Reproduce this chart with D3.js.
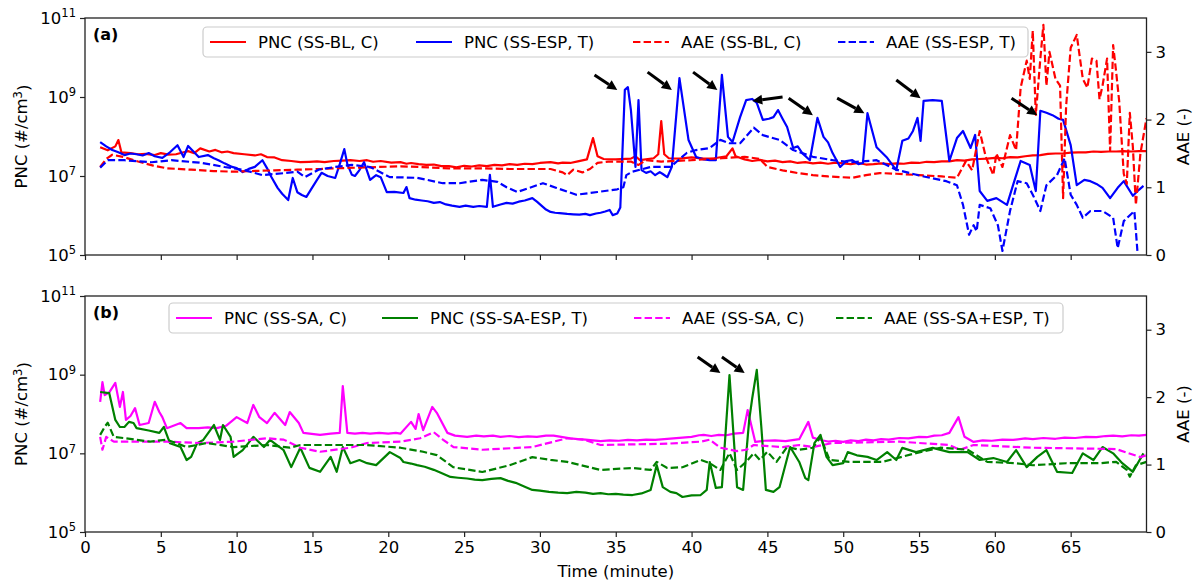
<!DOCTYPE html>
<html><head><meta charset="utf-8">
<script src="https://cdn.jsdelivr.net/npm/d3@7"></script>
<style>
body{margin:0;background:#fff;}
svg text{font-family:"DejaVu Sans",sans-serif;fill:#000;}
</style></head><body>
<svg id="chart" width="1199" height="586"></svg>
<script>
// Time in minutes; PNC stored as log10(#/cm3); AAE dimensionless.

// ---- panel (a) ----
const pncBL = [[1,7.73],[1.5,7.65],[2.0,7.75],[2.2,7.91],[2.4,7.6],[3,7.58],[3.5,7.55],[4,7.56],[4.6,7.53],[5,7.58],[5.5,7.54],[6,7.55],[6.5,7.6],[6.8,7.63],[7.2,7.58],[7.6,7.7],[8.2,7.62],[8.6,7.66],[9,7.6],[9.4,7.62],[9.8,7.58],[10.5,7.55],[11.2,7.52],[11.6,7.55],[12,7.48],[12.5,7.47],[13,7.4],[13.6,7.38],[14.2,7.35],[14.8,7.36],[15.3,7.37],[15.8,7.35],[16.4,7.38],[17.0,7.39],[17.5,7.4],[18.1,7.38],[18.6,7.4],[19.0,7.36],[19.5,7.38],[20.2,7.34],[20.8,7.35],[21.2,7.31],[21.5,7.33],[22,7.3],[22.5,7.28],[23,7.29],[23.5,7.25],[24,7.25],[24.5,7.22],[25,7.26],[25.5,7.24],[26,7.27],[26.5,7.25],[27,7.28],[27.5,7.27],[28,7.3],[28.5,7.28],[29,7.31],[29.5,7.3],[30,7.33],[30.7,7.35],[31.2,7.32],[31.5,7.34],[32,7.33],[32.5,7.37],[33.1,7.42],[33.5,7.96],[33.8,7.5],[34.2,7.43],[35,7.42],[36,7.44],[36.3,7.5],[36.6,7.4],[37.5,7.45],[37.8,7.55],[38,8.39],[38.2,7.55],[38.5,7.45],[39.2,7.44],[40,7.47],[40.8,7.44],[41.5,7.45],[42.3,7.5],[42.7,7.7],[42.9,7.5],[43.5,7.42],[44,7.38],[44.5,7.41],[45,7.37],[45.5,7.39],[46,7.35],[46.5,7.37],[47,7.33],[47.5,7.35],[48,7.32],[48.5,7.34],[49,7.31],[49.5,7.34],[50,7.32],[50.5,7.3],[51,7.33],[51.5,7.29],[52,7.3],[52.5,7.32],[53,7.3],[53.5,7.32],[54,7.31],[54.5,7.34],[55,7.33],[55.5,7.36],[56,7.35],[56.5,7.37],[57,7.37],[57.5,7.4],[58,7.39],[58.5,7.42],[59,7.43],[59.5,7.44],[60,7.46],[60.5,7.45],[61,7.48],[61.5,7.47],[62,7.5],[62.5,7.52],[63,7.53],[63.5,7.56],[64,7.57],[64.5,7.57],[65,7.59],[65.5,7.6],[66,7.6],[66.5,7.62],[67,7.61],[67.5,7.62],[68,7.62],[68.5,7.63],[69,7.62],[69.5,7.63],[70,7.63]];

const pncESP = [[1,7.86],[1.4,7.75],[1.8,7.66],[2.2,7.6],[2.6,7.53],[3.0,7.57],[3.4,7.55],[3.8,7.52],[4.2,7.58],[4.6,7.5],[5.1,7.46],[5.6,7.6],[6.1,7.78],[6.5,7.48],[6.8,7.76],[7.2,7.6],[7.5,7.48],[8.1,7.53],[8.5,7.45],[8.8,7.4],[9.2,7.32],[9.7,7.23],[10.0,7.2],[10.4,7.1],[10.8,7.18],[11.2,7.23],[11.7,7.4],[12.0,7.2],[12.3,6.97],[12.7,6.7],[13.0,6.55],[13.4,6.39],[13.7,6.95],[14,6.59],[14.3,6.52],[14.6,6.47],[15,6.72],[15.3,6.9],[15.6,7.08],[16.0,7.0],[16.5,6.95],[16.8,7.3],[17.1,7.68],[17.3,7.3],[17.6,7.03],[17.8,7.0],[18.1,7.15],[18.4,7.35],[18.8,6.9],[19.2,7.02],[19.5,6.97],[19.9,6.59],[20.4,6.6],[21,6.57],[21.2,6.72],[21.4,6.44],[21.8,6.4],[22.2,6.38],[22.6,6.36],[23,6.32],[23.4,6.34],[23.8,6.28],[24.2,6.25],[24.7,6.22],[25.1,6.25],[25.6,6.22],[26.0,6.24],[26.5,6.22],[26.7,7.03],[26.9,6.22],[27.4,6.28],[27.8,6.32],[28.2,6.3],[28.6,6.35],[29.0,6.38],[29.5,6.44],[29.8,6.35],[30.1,6.25],[30.4,6.15],[30.7,6.09],[31,6.07],[31.3,6.06],[31.8,6.04],[32.2,6.03],[32.6,6.02],[33,6.04],[33.3,6.01],[33.7,6.05],[34.0,6.07],[34.3,6.1],[34.6,6.14],[34.8,6.01],[35.1,6.05],[35.3,6.2],[35.5,8.2],[35.6,9.18],[35.8,9.25],[36.0,8.67],[36.3,7.23],[36.5,8.92],[36.7,7.15],[37,7.08],[37.3,7.12],[37.6,7.02],[37.9,7.1],[38.1,7.05],[38.4,6.97],[38.7,7.23],[39.2,9.48],[39.8,7.91],[40.3,7.48],[40.8,7.42],[41.2,7.4],[41.6,7.4],[42,9.56],[42.4,7.99],[42.7,7.86],[43.2,8.49],[43.6,8.92],[44.0,8.95],[44.3,8.85],[44.7,8.42],[45.1,8.45],[45.4,8.49],[45.7,8.67],[46.0,8.45],[46.3,8.24],[46.7,7.71],[47.0,7.75],[47.3,7.58],[47.8,7.4],[48.3,8.47],[48.7,7.99],[49.0,7.85],[49.3,7.58],[49.8,7.23],[50.2,7.38],[50.6,7.4],[51.0,7.3],[51.3,7.33],[51.6,8.59],[52.2,7.73],[52.9,7.46],[53.5,7.15],[53.9,7.89],[54.3,7.95],[54.6,8.14],[54.9,8.47],[55.1,7.89],[55.3,8.9],[55.9,8.92],[56.5,8.9],[57,7.38],[57.5,7.96],[57.9,8.14],[58.4,7.71],[58.7,8.04],[59,6.62],[59.5,6.37],[60.1,6.44],[60.8,6.27],[61.2,6.77],[61.7,7.38],[62.3,7.28],[62.7,6.62],[63,8.65],[63.4,8.6],[63.8,8.54],[64.2,8.45],[64.5,8.42],[65,7.78],[65.4,6.77],[65.9,6.9],[66.3,6.87],[66.7,6.8],[67.1,6.7],[67.6,6.44],[68.1,6.7],[68.5,6.87],[69.1,6.5],[69.5,6.65],[69.8,6.75]];

const aaeBL = [[1,1.30],[1.4,1.42],[1.8,1.48],[2.5,1.45],[3.5,1.38],[4.5,1.32],[5.4,1.28],[7,1.26],[8.5,1.24],[9.8,1.23],[11,1.24],[12.5,1.25],[14,1.26],[15.5,1.27],[16.4,1.28],[18,1.29],[20.8,1.31],[22,1.30],[24,1.28],[26,1.28],[28,1.27],[30.7,1.27],[31.5,1.22],[31.8,1.18],[32.2,1.26],[32.8,1.22],[33.3,1.27],[33.8,1.36],[34.5,1.38],[36,1.38],[36.5,1.33],[37,1.40],[38,1.38],[40,1.40],[42,1.43],[43.5,1.45],[44.5,1.42],[45,1.30],[46,1.25],[47,1.21],[48,1.18],[49,1.16],[50.6,1.14],[51.5,1.18],[52.4,1.21],[53.5,1.20],[55,1.18],[56.5,1.16],[57.5,1.14],[58.1,1.39],[58.5,1.25],[59,1.83],[59.4,1.45],[59.9,1.18],[60.1,1.5],[60.5,1.3],[61,1.77],[61.4,1.55],[61.7,2.47],[62.1,2.87],[62.3,2.6],[62.5,3.31],[62.7,2.07],[63,2.9],[63.2,3.4],[63.4,2.5],[63.6,3.0],[64,2.6],[64.3,2.5],[64.5,0.84],[64.7,2.2],[65,3.06],[65.4,3.25],[65.8,2.6],[66.1,2.47],[66.4,2.9],[66.7,2.87],[66.9,2.3],[67.1,2.5],[67.4,2.9],[67.6,1.54],[67.8,3.1],[68,2.7],[68.2,2.27],[68.5,1.2],[68.7,1.05],[68.9,2.1],[69.1,1.6],[69.3,0.74],[69.6,1.5],[70,2.02]];

const aaeESP = [[1,1.29],[1.5,1.40],[2.6,1.40],[4.4,1.37],[5.7,1.40],[7.7,1.36],[9.2,1.30],[10.4,1.26],[11.7,1.18],[13.2,1.21],[14,1.23],[14.5,1.15],[15.4,1.26],[16.5,1.30],[17.6,1.33],[18.8,1.30],[20.1,1.15],[21.9,1.14],[23.6,1.06],[24.7,1.06],[26.2,1.11],[27.2,1.08],[27.8,1.0],[28.5,0.93],[30.2,1.06],[31.1,0.99],[32.4,0.89],[33.8,0.93],[35.1,0.97],[35.5,1.0],[35.7,1.18],[36.1,1.23],[37.3,1.30],[38.6,1.30],[39.7,1.51],[40.3,1.55],[41.2,1.58],[41.9,1.70],[42.5,1.65],[43.2,1.65],[44.1,1.88],[44.7,1.77],[45.8,1.70],[46.7,1.55],[48,1.45],[49.3,1.40],[50.6,1.37],[52.2,1.40],[53.5,1.26],[55.1,1.17],[56.8,1.09],[57.5,1.03],[57.9,0.74],[58.3,0.30],[58.6,0.44],[58.8,0.35],[59,0.74],[59.7,0.69],[60.2,0.44],[60.5,0.06],[61,0.65],[61.5,1.09],[62.1,1.06],[62.5,0.89],[63,0.65],[63.4,1.03],[64.1,1.18],[64.6,1.43],[65,0.89],[65.4,0.74],[65.8,0.55],[66.3,0.65],[67.1,0.65],[67.8,0.55],[68.1,0.10],[68.5,0.50],[69.2,0.65],[69.4,0.06]];

// ---- panel (b) ----
const pncSA = [[1,8.31],[1.15,8.81],[1.3,8.48],[1.6,8.55],[2.0,8.79],[2.3,8.18],[2.5,8.56],[2.7,7.85],[3.0,7.95],[3.3,8.15],[3.6,7.72],[4.2,7.77],[4.6,8.31],[4.9,8.05],[5.1,7.92],[5.4,7.64],[6.3,7.77],[6.7,7.64],[7.5,7.64],[8.1,7.66],[8.7,7.64],[9.3,7.7],[10,7.92],[10.7,7.77],[11.1,8.23],[11.5,7.92],[12,7.77],[12.5,8.03],[13.2,7.72],[13.5,8.05],[14.1,7.77],[14.4,7.52],[15.5,7.47],[16.2,7.5],[16.8,7.52],[17,8.71],[17.3,7.52],[17.8,7.5],[18.3,7.52],[18.8,7.5],[19.4,7.52],[20,7.5],[20.5,7.52],[20.8,7.5],[21.5,7.8],[21.8,7.62],[22,8.0],[22.3,7.59],[22.9,8.18],[23.2,8.03],[23.9,7.52],[24.4,7.45],[25.2,7.42],[25.8,7.45],[26.3,7.43],[26.9,7.45],[27.4,7.42],[28,7.44],[28.6,7.41],[29.2,7.43],[29.8,7.42],[30.4,7.45],[30.9,7.45],[31.5,7.41],[32,7.38],[32.5,7.36],[33,7.35],[33.5,7.33],[34,7.31],[34.6,7.33],[35.2,7.32],[35.8,7.34],[36.4,7.33],[37,7.35],[37.6,7.34],[38.2,7.36],[38.8,7.38],[39.4,7.4],[40,7.42],[40.5,7.46],[40.8,7.47],[41.3,7.44],[41.8,7.47],[42.3,7.46],[42.8,7.5],[43.4,7.52],[43.7,8.1],[44.2,7.29],[44.8,7.32],[45.5,7.33],[46.2,7.31],[47.1,7.36],[47.7,7.8],[48.0,7.4],[48.5,7.34],[49,7.3],[49.5,7.32],[50,7.29],[50.5,7.33],[51,7.31],[51.5,7.35],[52,7.33],[52.5,7.36],[53,7.35],[53.7,7.39],[54.3,7.38],[55,7.42],[55.5,7.41],[56,7.45],[56.5,7.46],[57,7.52],[57.6,7.92],[58,7.42],[58.6,7.29],[59.2,7.33],[59.8,7.32],[60.5,7.35],[61.2,7.34],[62,7.38],[62.5,7.36],[63.2,7.39],[64,7.37],[64.6,7.4],[65.3,7.39],[66,7.42],[66.7,7.41],[67.3,7.44],[67.8,7.45],[68.4,7.43],[69,7.46],[69.5,7.45],[70,7.47]];

const pncSAESP = [[1,8.56],[1.6,8.53],[2.0,7.85],[2.3,7.67],[2.6,7.67],[2.9,7.8],[3.2,7.77],[3.4,7.64],[4.2,7.58],[4.9,7.52],[5.2,7.67],[5.6,7.26],[6.3,7.16],[6.7,6.83],[7,6.91],[7.4,7.26],[7.8,7.34],[8.5,7.72],[8.9,7.34],[9.1,7.72],[9.6,7.42],[9.8,6.91],[10.4,7.08],[11.1,7.42],[11.8,7.16],[12.2,7.34],[13.1,7.08],[13.6,6.65],[14.2,7.14],[14.8,6.63],[15.5,6.53],[16.2,6.91],[16.6,6.53],[17,7.16],[17.5,6.75],[18.1,6.83],[18.6,6.75],[19.2,6.7],[20.1,7.03],[20.8,6.88],[21,6.78],[21.5,6.74],[21.9,6.7],[22.4,6.66],[23,6.58],[23.5,6.5],[24.1,6.4],[24.6,6.38],[25.2,6.36],[25.7,6.33],[26.2,6.32],[26.8,6.35],[27.4,6.37],[27.9,6.3],[28.4,6.25],[29,6.15],[29.5,6.07],[30,6.05],[30.6,6.02],[31.2,6.0],[31.8,5.99],[32.4,6.02],[33,6.0],[33.5,5.97],[34,5.99],[34.5,5.96],[35,5.97],[35.5,5.95],[36.1,5.94],[36.7,5.98],[37.3,6.07],[37.7,6.7],[38.1,6.14],[38.6,6.02],[39,5.99],[39.4,5.89],[40,5.93],[40.6,5.94],[41,6.07],[41.2,6.78],[41.6,6.12],[42,6.14],[42.5,8.99],[43,6.14],[43.4,6.07],[43.8,7.85],[44.0,8.4],[44.3,9.12],[44.6,7.67],[44.9,6.07],[45.4,6.02],[45.8,6.14],[46.5,7.16],[47.1,6.78],[47.5,6.37],[47.7,6.32],[48.1,7.26],[48.5,7.47],[48.9,6.91],[49.3,6.7],[50,6.75],[50.3,7.03],[50.9,6.95],[51.6,6.91],[52.2,6.83],[52.9,7.03],[53.5,6.83],[53.9,7.14],[54.8,7.03],[55.9,7.14],[57,7.03],[58.2,7.03],[59,6.83],[59.9,6.88],[60.8,6.78],[61.4,7.08],[62.1,6.65],[62.8,6.91],[63.4,7.08],[64.1,6.53],[65.1,6.5],[65.8,7.0],[66.5,6.83],[67.1,7.16],[67.8,7.0],[68.4,6.75],[69.1,6.53],[69.8,7.0]];

const aaeSA = [[1,1.41],[1.15,1.22],[1.4,1.41],[1.9,1.34],[3.2,1.34],[5.4,1.34],[7.6,1.32],[9.8,1.34],[12,1.39],[13.1,1.37],[14.2,1.25],[15.5,1.19],[17.5,1.25],[18.6,1.32],[20.8,1.34],[22.1,1.39],[23,1.48],[23.6,1.37],[24.3,1.26],[26.2,1.22],[29.5,1.26],[31.8,1.39],[32.9,1.37],[34,1.29],[38.4,1.31],[40.6,1.34],[41.2,1.37],[41.9,1.25],[43,1.2],[43.6,1.22],[44.1,1.29],[46,1.26],[47.1,1.29],[48,1.26],[49.3,1.32],[53.7,1.34],[57,1.29],[57.7,1.22],[58.6,1.29],[62.5,1.25],[68,1.23],[69.6,1.11],[70,1.14]];

const aaeSAESP = [[1,1.44],[1.3,1.56],[1.5,1.62],[1.9,1.41],[2.7,1.39],[4.3,1.34],[5.4,1.37],[6.7,1.26],[8,1.32],[9.8,1.26],[12,1.29],[13.5,1.25],[14.2,1.29],[16.4,1.29],[18.6,1.29],[20.8,1.25],[22.3,1.19],[23.2,1.14],[24.3,0.96],[26.2,0.89],[28,0.99],[29.5,1.11],[30.7,1.07],[31.8,1.04],[34,0.92],[36.1,0.95],[37.3,0.92],[37.7,1.04],[38.4,0.95],[39.4,0.96],[40.6,1.07],[41.2,1.02],[41.9,0.92],[42.5,1.17],[43,0.92],[43.6,1.04],[44.1,1.17],[44.5,1.07],[45,1.19],[45.6,1.04],[46.3,1.26],[47.1,1.22],[48,1.25],[48.5,1.41],[49.1,1.07],[50.4,1.04],[52.6,1.04],[54.8,1.17],[56.4,1.25],[58.2,1.22],[59.5,1.04],[61.4,1.02],[62.5,0.99],[64.7,1.02],[66.9,1.02],[68,1.04],[68.7,0.92],[68.9,0.82],[69.3,0.99],[70,1.04]];

// arrow annotations: [tStart, log10Start, tEnd, log10End]
const arrowsA = [[33.6,9.56,35.1,9.18],[37.1,9.63,38.7,9.18],[40.1,9.63,41.7,9.18],[46.0,9.0,44.0,8.9],[46.4,8.97,48.0,8.54],[49.6,8.97,51.4,8.59],[53.5,9.43,55.1,8.97],[61.1,8.97,62.8,8.54]];
const arrowsB = [[40.4,9.45,41.9,9.04],[42.0,9.45,43.5,9.04]];

const xTicks = [0,5,10,15,20,25,30,35,40,45,50,55,60,65];
const pncTicks = [1e5,1e7,1e9,1e11];
const aaeTicks = [0,1,2,3];

const legendA = ["PNC (SS-BL, C)","PNC (SS-ESP, T)","AAE (SS-BL, C)","AAE (SS-ESP, T)"];
const legendB = ["PNC (SS-SA, C)","PNC (SS-SA-ESP, T)","AAE (SS-SA, C)","AAE (SS-SA+ESP, T)"];

const svg = d3.select("#chart");
const L = 85, R = 1146.5, FS = 16.5, LW = 2.2, DASH = "7.4,3.2";
const x = d3.scaleLinear().domain([0,70]).range([L,R]);

function panel(opt){
  const {top,bottom,tag,series,arrows,legend,legendBox,showXLabels} = opt;
  const yL = d3.scaleLog().domain([1e5,1e11]).range([bottom,top]);
  const yR = d3.scaleLinear().domain([0,3.5]).range([bottom,top]);
  const g = svg.append("g");
  const clipId = "clip"+tag;
  g.append("clipPath").attr("id",clipId).append("rect")
    .attr("x",L).attr("y",top).attr("width",R-L).attr("height",bottom-top);

  const lines = g.append("g").attr("clip-path",`url(#${clipId})`);
  series.forEach(s=>{
    const gen = d3.line().x(d=>x(d[0]))
      .y(d=> s.axis==="pnc" ? yL(Math.pow(10,d[1])) : yR(d[1]));
    lines.append("path").datum(s.data)
      .attr("d",gen).attr("fill","none").attr("stroke",s.color)
      .attr("stroke-width",LW).attr("stroke-linejoin","round")
      .attr("stroke-dasharray",s.dash?DASH:null);
  });

  // arrows
  const ag = g.append("g");
  arrows.forEach(a=>{
    const x1=x(a[0]), y1=yL(Math.pow(10,a[1])), x2=x(a[2]), y2=yL(Math.pow(10,a[3]));
    const ang = Math.atan2(y2-y1,x2-x1), hl=10, hw=5;
    const bx = x2-hl*Math.cos(ang), by = y2-hl*Math.sin(ang);
    ag.append("line").attr("x1",x1).attr("y1",y1).attr("x2",bx).attr("y2",by)
      .attr("stroke","#000").attr("stroke-width",3);
    const px=-Math.sin(ang), py=Math.cos(ang);
    ag.append("path").attr("d",`M${x2},${y2}L${bx+px*hw},${by+py*hw}L${bx-px*hw},${by-py*hw}Z`)
      .attr("fill","#000");
  });

  // axes
  const ax = g.append("g").attr("transform",`translate(0,${bottom})`)
    .call(d3.axisBottom(x).tickValues(xTicks).tickSize(5).tickPadding(4)
      .tickFormat(showXLabels? d3.format("d") : ""));
  const ayl = g.append("g").attr("transform",`translate(${L},0)`)
    .call(d3.axisLeft(yL).tickValues(pncTicks).tickSize(5).tickPadding(4));
  ayl.selectAll(".tick text").each(function(d){
    const t = d3.select(this).text("");
    t.append("tspan").text("10");
    t.append("tspan").attr("dy","-0.55em").attr("font-size","11.5px").text(Math.round(Math.log10(d)));
  });
  const ayr = g.append("g").attr("transform",`translate(${R},0)`)
    .call(d3.axisRight(yR).tickValues(aaeTicks).tickSize(5).tickPadding(4).tickFormat(d3.format("d")));
  [ax,ayl,ayr].forEach(a=>{
    a.select(".domain").remove();
    a.selectAll(".tick line").attr("stroke","#222").attr("stroke-width",1.2);
    a.selectAll(".tick text").attr("font-size",FS+"px").attr("font-family","DejaVu Sans").attr("fill","#000");
  });
  g.append("rect").attr("x",L).attr("y",top).attr("width",R-L).attr("height",bottom-top)
    .attr("fill","none").attr("stroke","#222").attr("stroke-width",1.3);

  // axis titles
  const mid=(top+bottom)/2;
  const tl = g.append("text").attr("transform",`translate(27,${mid}) rotate(-90)`)
    .attr("text-anchor","middle").attr("font-size",FS+"px");
  tl.append("tspan").text("PNC (#/cm");
  tl.append("tspan").attr("dy","-0.45em").attr("font-size","11.5px").text("3");
  tl.append("tspan").attr("dy","0.45em").text(")");
  g.append("text").attr("transform",`translate(1189,${mid}) rotate(-90)`)
    .attr("text-anchor","middle").attr("font-size",FS+"px").text("AAE (-)");

  // panel tag
  g.append("text").attr("x",93).attr("y",top+22).attr("font-size","16px")
    .attr("font-weight","bold").text(`(${tag})`);

  // legend
  const lb = legendBox;
  const lg = g.append("g");
  lg.append("rect").attr("x",lb.x).attr("y",lb.y).attr("width",lb.w).attr("height",30)
    .attr("rx",4).attr("fill","#fff").attr("fill-opacity",0.85)
    .attr("stroke","#cccccc").attr("stroke-width",1.2);
  const cy = lb.y+15;
  legend.forEach((lab,i)=>{
    const s = series[i];
    lg.append("line").attr("x1",lb.hx[i]).attr("x2",lb.hx[i]+36).attr("y1",cy).attr("y2",cy)
      .attr("stroke",s.color).attr("stroke-width",LW).attr("stroke-dasharray",s.dash?DASH:null);
    lg.append("text").attr("x",lb.hx[i]+48).attr("y",cy+6).attr("font-size",FS+"px").text(lab);
  });
}

panel({top:18,bottom:255,tag:"a",showXLabels:false,
  series:[{data:pncBL,color:"#ff0000",axis:"pnc"},{data:pncESP,color:"#0000ff",axis:"pnc"},
          {data:aaeBL,color:"#ff0000",axis:"aae",dash:true},{data:aaeESP,color:"#0000ff",axis:"aae",dash:true}],
  arrows:arrowsA, legend:legendA,
  legendBox:{x:203,y:27,w:825,hx:[210,416,633,838]}});

panel({top:296,bottom:532,tag:"b",showXLabels:true,
  series:[{data:pncSA,color:"#ff00ff",axis:"pnc"},{data:pncSAESP,color:"#008000",axis:"pnc"},
          {data:aaeSA,color:"#ff00ff",axis:"aae",dash:true},{data:aaeSAESP,color:"#008000",axis:"aae",dash:true}],
  arrows:arrowsB, legend:legendB,
  legendBox:{x:169,y:303,w:894,hx:[176,382,634,836]}});

svg.append("text").attr("x",(L+R)/2).attr("y",577).attr("text-anchor","middle")
  .attr("font-size",FS+"px").text("Time (minute)");
</script>
</body></html>
